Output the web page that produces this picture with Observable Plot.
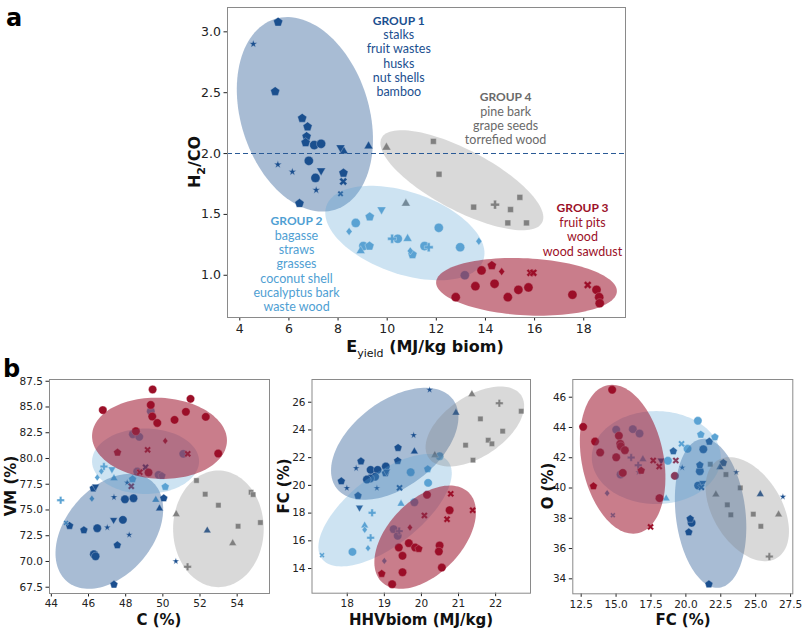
<!DOCTYPE html>
<html><head><meta charset="utf-8">
<script src="https://cdn.jsdelivr.net/npm/d3@7"></script>
<script src="https://cdn.jsdelivr.net/npm/@observablehq/plot@0.6"></script>
<style>
body{margin:0;background:#fff;}
#wrap{position:relative;width:803px;height:630px;overflow:hidden;font-family:"DejaVu Sans",sans-serif;background:#fff;}
.panel{position:absolute;}
.lab{position:absolute;font-weight:bold;color:#111;white-space:nowrap;line-height:1;}
.rot{transform:translate(-50%,-50%) rotate(-90deg);}
.hor{transform:translate(-50%,-50%);}
.letter{position:absolute;font-weight:bold;font-size:24px;color:#000;line-height:1;}
</style></head><body><div id="wrap"></div>
<script>
// ---------- DATA: [group, marker, x, y] ----------
const groupNames = ["GROUP 1","GROUP 2","GROUP 3","GROUP 4"];
const groupMembers = [
  "stalks\nfruit wastes\nhusks\nnut shells\nbamboo",
  "bagasse\nstraws\ngrasses\ncoconut shell\neucalyptus bark\nwaste wood",
  "fruit pits\nwood\nwood sawdust",
  "pine bark\ngrape seeds\ntorrefied wood"
];
const h2coThreshold = 2.0;

// panel a: Eyield (MJ/kg biom) vs H2/CO
const pointsA = [
  [1,"p",5.56,3.08],[1,"*",4.55,2.90],[1,"p",5.44,2.51],[1,"p",6.54,2.29],[1,"p",6.76,2.22],[1,"p",6.72,2.14],[1,"p",6.68,2.09],
  [1,"o",7.03,2.07],[1,"o",7.31,2.08],[1,"v",8.10,2.05],[1,"^",8.23,2.02],[1,"^",9.24,2.06],[1,"*",5.55,1.91],[1,"*",6.14,1.85],
  [1,"o",6.81,1.94],[1,"v",7.31,1.86],[1,"p",8.22,1.84],[1,"o",7.08,1.80],[1,"X",8.21,1.77],[1,"*",7.11,1.70],[1,"x",8.10,1.67],[1,"p",6.43,1.59],
  [2,"v",9.77,1.54],[2,"p",9.29,1.48],[2,"o",8.72,1.43],[2,"D",8.45,1.36],[2,"o",12.10,1.39],[2,"P",10.20,1.30],[2,"o",10.43,1.30],
  [2,"^",10.83,1.30],[2,"o",9.03,1.24],[2,"p",9.28,1.24],[2,"^",8.92,1.20],[2,"o",11.52,1.24],[2,"P",11.69,1.23],[2,"D",10.94,1.20],
  [2,"p",11.03,1.17],[2,"o",12.97,1.23],[2,"D",13.73,1.28],[2,"o",13.16,1.00],
  [3,"o",12.79,0.82],[3,"o",13.59,0.91],[3,"o",13.84,1.04],[3,"p",14.26,1.08],[3,"D",14.66,1.03],[3,"o",14.37,0.93],[3,"o",14.91,0.82],
  [3,"o",15.34,0.88],[3,"o",15.75,0.90],[3,"X",15.83,1.02],[3,"X",15.95,1.02],[3,"o",17.54,0.84],[3,"X",18.16,0.92],[3,"o",18.52,0.88],
  [3,"o",18.63,0.82],[3,"o",18.65,0.77],
  [4,"^",9.97,2.05],[4,"s",11.88,2.10],[4,"s",12.11,1.83],[4,"^",10.76,1.59],[4,"s",13.52,1.56],[4,"P",14.39,1.58],[4,"s",15.02,1.54],
  [4,"s",15.40,1.64],[4,"s",14.91,1.43],[4,"s",15.67,1.43]
];
// panel b1: C (%) vs VM (%)
const pointsB1 = [
  [3,"o",49.45,86.7],[3,"o",46.77,84.7],[3,"o",49.35,85.2],[3,"o",49.43,84.07],[3,"o",49.7,83.45],[3,"o",51.49,85.79],[3,"o",51.24,84.53],
  [3,"o",50.63,83.75],[3,"o",52.31,84.04],[3,"o",48.55,82.65],[3,"D",50.13,81.71],[3,"p",47.56,80.58],[3,"X",49.18,80.84],[3,"o",52.98,80.48],
  [3,"X",48.76,78.67],[3,"o",49.23,78.64],[3,"X",51.34,80.45],[3,"X",48.3,77.3],
  [2,"o",49.35,84.59],[2,"o",48.39,82.35],[2,"o",48.73,82.1],[2,"o",51.1,80.45],[2,"o",49.77,78.41],[2,"p",49.95,78.31],[2,"o",48.62,78.73],
  [2,"p",48.37,77.99],[2,"P",46.83,79.22],[2,"D",46.69,78.76],[2,"D",46.47,78.15],[2,"v",47.26,78.96],[2,"^",47.37,78.08],[2,"p",50.13,77.25],
  [2,"P",44.5,75.95],[2,"D",46.18,76.1],[2,"^",49.62,75.98],[2,"x",44.79,73.75],
  [1,"*",48.08,77.66],[1,"p",46.26,77.1],[1,"v",46.38,77.28],[1,"*",47.37,76.24],[1,"o",47.96,76.04],[1,"o",48.42,76.14],[1,"p",50.05,76.14],
  [1,"^",49.82,75.14],[1,"p",44.98,73.46],[1,"p",45.75,73.04],[1,"o",46.47,73.23],[1,"v",47.35,74.04],[1,"*",47.01,73.3],[1,"o",47.85,74.04],
  [1,"*",48.19,72.59],[1,"p",47.55,71.58],[1,"o",46.29,70.7],[1,"o",46.38,70.5],[1,"*",50.7,70.02],[1,"p",47.37,67.76],[1,"^",52.39,73.0],
  [1,"X",49.07,79.15],
  [4,"s",51.81,77.86],[4,"s",52.28,76.53],[4,"s",52.99,75.46],[4,"s",54.75,76.72],[4,"s",54.86,76.5],[4,"s",55.25,73.78],[4,"s",54.05,73.42],
  [4,"^",50.72,74.59],[4,"^",53.76,71.77],[4,"P",51.33,69.48]
];
// panel b2: HHVbiom (MJ/kg) vs FC (%)
const pointsB2 = [
  [1,"*",20.22,26.89],[1,"^",20.93,25.24],[1,"*",19.79,23.62],[1,"^",19.81,22.44],[1,"p",19.37,22.71],[1,"p",19.36,21.77],[1,"p",18.37,21.74],
  [1,"*",18.24,21.24],[1,"o",18.63,21.12],[1,"o",18.82,21.12],[1,"o",19.04,21.36],[1,"v",19.06,21.0],[1,"p",19.03,20.88],[1,"o",18.75,20.62],
  [1,"o",18.62,20.5],[1,"o",18.53,20.42],[1,"p",17.84,20.3],[1,"*",17.99,19.8],[1,"*",18.8,19.8],[1,"X",19.41,19.82],[1,"p",18.29,19.25],
  [1,"v",18.33,18.4],
  [4,"^",21.36,26.58],[4,"P",22.1,25.93],[4,"s",22.69,25.35],[4,"s",21.59,24.8],[4,"s",22.19,23.91],[4,"s",21.80,23.26],[4,"s",21.9,23.0],
  [4,"s",21.19,22.9],[4,"s",21.39,21.82],[4,"^",20.36,22.18],
  [2,"o",20.49,22.1],[2,"o",19.71,20.95],[2,"p",20.17,21.17],[2,"o",20.18,20.18],[2,"^",19.45,18.67],[2,"P",18.67,18.02],[2,"^",18.47,17.1],
  [2,"D",18.47,16.8],[2,"P",18.63,16.22],[2,"D",18.56,15.47],[2,"o",18.14,15.2],[2,"x",17.32,14.96],[2,"o",19.81,18.78],[2,"D",19.0,14.55],
  [2,"o",19.25,16.84],[2,"P",19.4,16.7],[2,"o",19.36,16.36],
  [3,"X",20.79,19.39],[3,"o",20.15,19.32],[3,"o",20.76,18.21],[3,"X",21.38,18.21],[3,"X",20.08,17.83],[3,"X",20.69,17.56],[3,"D",19.69,16.96],
  [3,"o",19.66,15.83],[3,"o",19.39,15.52],[3,"o",19.83,15.52],[3,"p",19.93,15.42],[3,"o",20.49,15.66],[3,"o",20.47,15.23],[3,"o",19.49,14.92],
  [3,"o",20.55,14.07],[3,"o",19.49,13.73],[3,"p",18.93,13.62],[3,"o",19.21,12.87]
];
// panel b3: FC (%) vs O (%)
const pointsB3 = [
  [3,"o",14.72,46.49],[3,"o",12.64,44.04],[3,"o",13.50,43.07],[3,"o",13.86,42.35],[3,"o",15.20,43.45],[3,"o",15.30,42.92],[3,"o",15.34,42.76],
  [3,"o",15.63,42.5],[3,"o",15.01,42.03],[3,"o",15.48,41.0],[3,"p",16.80,41.15],[3,"X",17.66,41.82],[3,"X",18.09,41.42],[3,"X",19.28,41.82],
  [3,"o",19.21,40.8],[3,"p",13.38,40.12],[3,"o",18.11,39.33],[3,"X",17.47,37.43],
  [2,"o",15.01,43.85],[2,"o",16.20,43.89],[2,"o",16.68,43.6],[2,"o",15.32,40.89],[2,"P",16.08,42.01],[2,"P",16.59,41.5],[2,"^",16.92,41.9],
  [2,"*",16.61,41.04],[2,"D",14.36,39.66],[2,"x",14.77,38.2],[2,"o",20.86,44.44],[2,"p",21.07,43.53],[2,"p",22.08,43.36],[2,"X",19.69,42.92],
  [2,"o",20.12,42.59],[2,"o",18.71,41.8],[2,"^",18.59,39.3],
  [1,"o",21.25,42.56],[1,"p",21.68,43.07],[1,"p",19.1,42.43],[1,"*",19.74,41.35],[1,"p",21.0,41.51],[1,"o",21.0,41.11],[1,"p",22.68,41.66],
  [1,"^",22.44,41.37],[1,"*",23.61,41.04],[1,"o",20.88,40.16],[1,"v",21.21,40.34],[1,"X",21.11,40.05],[1,"^",25.33,39.59],[1,"*",26.95,39.42],
  [1,"p",20.31,37.96],[1,"o",20.41,37.7],[1,"p",20.21,37.08],[1,"p",21.65,33.64],[1,"v",18.23,41.82],
  [4,"s",21.75,41.57],[4,"s",22.87,40.89],[4,"s",23.90,40.01],[4,"^",22.15,39.57],[4,"s",22.97,38.89],[4,"s",23.22,38.23],[4,"s",24.83,38.27],
  [4,"s",25.37,37.47],[4,"^",26.64,38.25],[4,"P",25.98,35.47]
];
// group ellipses: centre (data units), semi-axes (px), rotation (deg)
const ellipsesA  = [{g:1,cx:6.65,cy:2.322,rx:100,ry:64,angle:72.4},{g:2,cx:10.72,cy:1.347,rx:83,ry:41,angle:19},
                    {g:3,cx:15.67,cy:0.905,rx:90.5,ry:28.5,angle:3},{g:4,cx:13.04,cy:1.781,rx:90.7,ry:30.2,angle:27.8}];
const ellipsesB1 = [{g:1,cx:47.12,cy:72.93,rx:65.6,ry:43.6,angle:-49.9},{g:2,cx:49.07,cy:79.73,rx:53.5,ry:32.7,angle:0},
                    {g:3,cx:49.82,cy:81.96,rx:67.5,ry:40.5,angle:3},{g:4,cx:52.99,cy:73.17,rx:45.3,ry:58.3,angle:0}];
const ellipsesB2 = [{g:1,cx:19.28,cy:23.0,rx:73.2,ry:42.8,angle:-37.4},{g:2,cx:19.02,cy:18.21,rx:79.7,ry:35.5,angle:-37.7},
                    {g:3,cx:20.1,cy:16.26,rx:62.4,ry:36.8,angle:-46},{g:4,cx:21.44,cy:24.25,rx:55.8,ry:30.2,angle:-33.9}];
const ellipsesB3 = [{g:1,cx:21.77,cy:38.33,rx:74.9,ry:34.9,angle:83.4},{g:2,cx:17.88,cy:42.01,rx:64.5,ry:46.5,angle:0},
                    {g:3,cx:15.47,cy:41.9,rx:75.5,ry:40.9,angle:78.6},{g:4,cx:24.4,cy:38.6,rx:57.1,ry:34.4,angle:58.9}];
// tick values
const ticksAx = [4,6,8,10,12,14,16,18], ticksAy = [1.0,1.5,2.0,2.5,3.0];
const ticksB1x = [44,46,48,50,52,54], ticksB1y = [67.5,70,72.5,75,77.5,80,82.5,85,87.5];
const ticksB2x = [18,19,20,21,22], ticksB2y = [14,16,18,20,22,24,26];
const ticksB3x = [12.5,15,17.5,20,22.5,25,27.5], ticksB3y = [34,36,38,40,42,44,46];

// ---------- STYLE ----------
const COLOR = {1:"#1b4f8f",2:"#5ba3d3",3:"#9b0f28",4:"#808080"};
const TEXTCOLOR = {1:"#1b4f8f",2:"#4fa0d3",3:"#9b0f28",4:"#6a6a6a"};
const ALPHA = {1:0.38,2:0.3,3:0.54,4:0.3};
function sym(f){return {draw(c,size){f(c,Math.sqrt(size/Math.PI));}};}
function poly(c,p){c.moveTo(p[0][0],p[0][1]);for(let i=1;i<p.length;i++)c.lineTo(p[i][0],p[i][1]);c.closePath();}
function crossPts(r,rot){const w=r*0.34,L=r*1.05;const b=[[-w,-L],[w,-L],[w,-w],[L,-w],[L,w],[w,w],[w,L],[-w,L],[-w,w],[-L,w],[-L,-w],[-w,-w]];
  const cs=Math.cos(rot),sn=Math.sin(rot);return b.map(([x,y])=>[x*cs-y*sn,x*sn+y*cs]);}
const SYM = {
  o: sym((c,r)=>{c.moveTo(r,0);c.arc(0,0,r,0,2*Math.PI);}),
  p: sym((c,r)=>{const R=r*1.1;poly(c,d3.range(5).map(i=>{const a=-Math.PI/2+i*2*Math.PI/5;return [R*Math.cos(a),R*Math.sin(a)];}));}),
  "^": sym((c,r)=>{const R=r*1.2;poly(c,[[0,-R],[R*0.866,R*0.5],[-R*0.866,R*0.5]]);}),
  v: sym((c,r)=>{const R=r*1.2;poly(c,[[0,R],[R*0.866,-R*0.5],[-R*0.866,-R*0.5]]);}),
  "*": sym((c,r)=>{const R=r*1.25,q=r*0.5;poly(c,d3.range(10).map(i=>{const a=-Math.PI/2+i*Math.PI/5,k=i%2?q:R;return [k*Math.cos(a),k*Math.sin(a)];}));}),
  X: sym((c,r)=>poly(c,crossPts(r,Math.PI/4))),
  x: sym((c,r)=>poly(c,crossPts(r,Math.PI/4))),
  P: sym((c,r)=>poly(c,crossPts(r,0))),
  D: sym((c,r)=>poly(c,[[0,-r*1.05],[r*0.8,0],[0,r*1.05],[-r*0.8,0]])),
  s: sym((c,r)=>{const h=r*0.85;poly(c,[[-h,-h],[h,-h],[h,h],[-h,h]]);})
};
const SIZE_A = {o:4.6,p:4.4,"^":4.3,v:4.3,"*":3.3,X:4,x:3,P:4.2,D:3.8,s:3.4};
const SIZE_B = {o:4.2,p:3.8,"^":3.7,v:3.7,"*":2.9,X:3.5,x:2.7,P:3.6,D:3.3,s:3.1};

const wrap = document.getElementById("wrap");

function panel(cfg){
  const {left,top,width,height,ml,mr,mt,mb,xd,yd,xt,yt,xf,yf,pts,ells,sizes,font,extra} = cfg;
  const sx = d3.scaleLinear(xd,[ml,width-mr]);
  const sy = d3.scaleLinear(yd,[height-mb,mt]);
  const marks = [];
  for (const g of [1,2,3,4]) for (const s of Object.keys(SYM)) {
    const sub = pts.filter(p=>p[0]===g && p[1]===s);
    if (!sub.length) continue;
    marks.push(Plot.dot(sub,{x:d=>d[2],y:d=>d[3],symbol:SYM[s],r:sizes[s],fill:COLOR[g],stroke:"white",strokeWidth:0.5,strokeOpacity:0.8}));
  }
  for (const e of ells) {
    const cx=sx(e.cx), cy=sy(e.cy), t=e.angle*Math.PI/180;
    const poly = d3.range(0,360,3).map(deg=>{const a=deg*Math.PI/180,ux=e.rx*Math.cos(a),uy=e.ry*Math.sin(a);
      return {x:sx.invert(cx+ux*Math.cos(t)-uy*Math.sin(t)), y:sy.invert(cy+ux*Math.sin(t)+uy*Math.cos(t))};});
    marks.push(Plot.line(poly,{x:"x",y:"y",curve:"linear-closed",fill:COLOR[e.g],fillOpacity:ALPHA[e.g],stroke:"none"}));
  }
  if (extra) marks.push(...extra);
  marks.push(Plot.frame({stroke:"#8a8a8a"}));
  const svg = Plot.plot({
    width,height,marginLeft:ml,marginRight:mr,marginTop:mt,marginBottom:mb,
    x:{domain:xd,ticks:xt,tickFormat:xf,label:null,tickSize:3.5,tickPadding:3},
    y:{domain:yd,ticks:yt,tickFormat:yf,label:null,tickSize:3.5,tickPadding:3},
    style:{fontFamily:"DejaVu Sans",fontSize:font,color:"#222",background:"transparent",overflow:"visible"},
    marks
  });
  svg.classList.add("panel");
  svg.style.left = left+"px"; svg.style.top = top+"px";
  wrap.appendChild(svg);
}

const f1 = d3.format(".1f"), f0 = d3.format("d");
// annotation placement for panel a (data units)
const annot = [{g:1,x:10.47,ty:3.090,by:2.743},{g:2,x:6.31,ty:1.445,by:1.036},{g:3,x:17.95,ty:1.549,by:1.316},{g:4,x:14.82,ty:2.465,by:2.230}];
const extraA = [
  Plot.ruleY([h2coThreshold],{stroke:"#2a5a96",strokeDasharray:"5,3",strokeWidth:1.1}),
  Plot.text(annot,{x:"x",y:"ty",text:d=>groupNames[d.g-1],fill:d=>TEXTCOLOR[d.g],fontWeight:"bold",fontSize:12,fontFamily:"Lato"}),
  Plot.text(annot,{x:"x",y:"by",text:d=>groupMembers[d.g-1],fill:d=>TEXTCOLOR[d.g],fontSize:12.5,fontFamily:"Lato",lineHeight:1.136,lineAnchor:"middle"})
];
panel({left:0,top:0,width:660,height:345,ml:227,mr:35,mt:7,mb:28,xd:[3.5,19.7],yd:[0.653,3.2],xt:ticksAx,yt:ticksAy,xf:f0,yf:f1,
  pts:pointsA,ells:ellipsesA,sizes:SIZE_A,font:"12.5px",extra:extraA});
panel({left:0,top:360,width:275,height:270,ml:49,mr:6,mt:19,mb:37,xd:[43.9,55.74],yd:[66.89,87.67],xt:ticksB1x,yt:ticksB1y,xf:f0,yf:f1,
  pts:pointsB1,ells:ellipsesB1,sizes:SIZE_B,font:"10.5px"});
panel({left:270,top:360,width:265,height:270,ml:41.5,mr:5,mt:19,mb:37.3,xd:[17.05,22.94],yd:[12.22,27.64],xt:ticksB2x,yt:ticksB2y,xf:f0,yf:f0,
  pts:pointsB2,ells:ellipsesB2,sizes:SIZE_B,font:"10.5px"});
panel({left:535,top:360,width:268,height:270,ml:37.3,mr:10.7,mt:19,mb:36.7,xd:[11.9,27.66],yd:[33.01,47.17],xt:ticksB3x,yt:ticksB3y,xf:f1,yf:f0,
  pts:pointsB3,ells:ellipsesB3,sizes:SIZE_B,font:"10.5px"});

// axis titles and panel letters
const labels = [
  {html:"H<sub style='font-size:11px'>2</sub>/CO",x:197,y:162,rot:true,size:16},
  {html:"E<sub style='font-size:11px;font-weight:normal'>yield</sub> (MJ/kg biom)",x:425,y:349,rot:false,size:16},
  {html:"VM (%)",x:11,y:486,rot:true,size:15},
  {html:"C (%)",x:159,y:620,rot:false,size:15},
  {html:"FC (%)",x:284,y:486,rot:true,size:15},
  {html:"HHVbiom (MJ/kg)",x:421,y:620,rot:false,size:15},
  {html:"O (%)",x:548,y:486,rot:true,size:15},
  {html:"FC (%)",x:683,y:620,rot:false,size:15}
];
for (const l of labels){const d=document.createElement("div");d.className="lab "+(l.rot?"rot":"hor");d.innerHTML=l.html;
  d.style.left=l.x+"px";d.style.top=l.y+"px";d.style.fontSize=l.size+"px";wrap.appendChild(d);}
for (const [t,x,y] of [["a",6,6],["b",3,357]]){const d=document.createElement("div");d.className="letter";d.textContent=t;
  d.style.left=x+"px";d.style.top=y+"px";wrap.appendChild(d);}
</script></body></html>
